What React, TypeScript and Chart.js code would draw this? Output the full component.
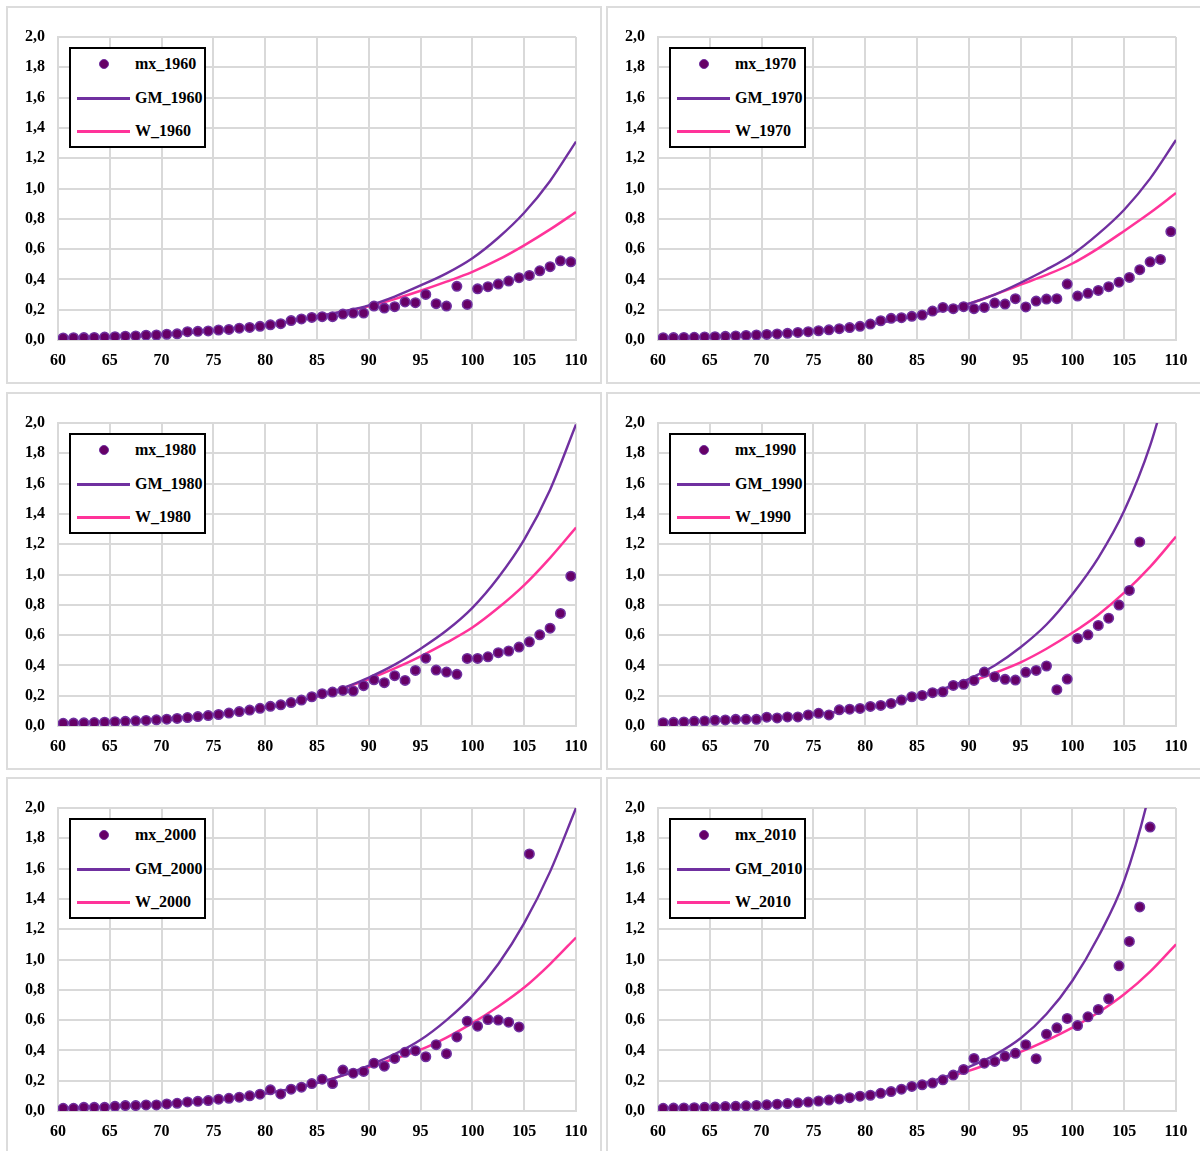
import React, { useEffect, useRef } from "react";
import { Chart, registerables } from "chart.js";
Chart.register(...registerables);

// Age at the middle of each one-year interval (x of the observed points)
const pointAges = [
  60.5, 61.5, 62.5, 63.5, 64.5, 65.5, 66.5, 67.5, 68.5, 69.5,
  70.5, 71.5, 72.5, 73.5, 74.5, 75.5, 76.5, 77.5, 78.5, 79.5,
  80.5, 81.5, 82.5, 83.5, 84.5, 85.5, 86.5, 87.5, 88.5, 89.5,
  90.5, 91.5, 92.5, 93.5, 94.5, 95.5, 96.5, 97.5, 98.5, 99.5,
  100.5, 101.5, 102.5, 103.5, 104.5, 105.5, 106.5, 107.5, 108.5, 109.5,
];
// Ages at which the fitted curves were read
const curveAges = [60, 65, 70, 75, 80, 82.5, 85, 87.5, 90, 92.5, 95, 97.5, 100, 102.5, 105, 107.5, 110];

const xTicks = [60, 65, 70, 75, 80, 85, 90, 95, 100, 105, 110];
const yTicks = [0, 0.2, 0.4, 0.6, 0.8, 1.0, 1.2, 1.4, 1.6, 1.8, 2.0];

// 1960
const mx1960 = [
  0.014, 0.015, 0.016, 0.017, 0.019, 0.022, 0.025, 0.027, 0.032, 0.033,
  0.038, 0.041, 0.055, 0.057, 0.060, 0.066, 0.070, 0.078, 0.083, 0.090,
  0.100, 0.108, 0.128, 0.139, 0.149,
  0.154, 0.154, 0.171, 0.178, 0.178, 0.224, 0.211, 0.220, 0.251, 0.246,
  0.301, 0.240, 0.224, 0.354, 0.235, 0.338, 0.352, 0.369, 0.389, 0.411,
  0.426, 0.457, 0.484, 0.523, 0.516,
];
const gm1960 = [0.014, 0.022, 0.036, 0.060, 0.097, 0.123, 0.155, 0.188, 0.228, 0.287, 0.36, 0.44, 0.54, 0.675, 0.84, 1.05, 1.31];
const w1960 = [0.014, 0.022, 0.036, 0.060, 0.097, 0.123, 0.155, 0.186, 0.222, 0.27, 0.325, 0.385, 0.45, 0.53, 0.625, 0.73, 0.845];

// 1970
const mx1970 = [
  0.015, 0.016, 0.017, 0.018, 0.020, 0.022, 0.024, 0.027, 0.030, 0.033,
  0.037, 0.040, 0.044, 0.050, 0.055, 0.061, 0.067, 0.075, 0.082, 0.090,
  0.105,
  0.127, 0.143, 0.147, 0.156, 0.165, 0.191, 0.215, 0.207, 0.220, 0.207,
  0.215, 0.244, 0.237, 0.273, 0.218, 0.257, 0.270, 0.273, 0.369, 0.290,
  0.308, 0.327, 0.352, 0.382, 0.413, 0.464, 0.516, 0.532, 0.716,
];
const gm1970 = [0.014, 0.022, 0.036, 0.060, 0.10, 0.127, 0.16, 0.196, 0.24, 0.30, 0.378, 0.465, 0.565, 0.70, 0.86, 1.065, 1.32];
const w1970 = [0.014, 0.022, 0.036, 0.060, 0.10, 0.127, 0.16, 0.196, 0.238, 0.30, 0.365, 0.43, 0.505, 0.605, 0.72, 0.84, 0.97];

// 1980
const mx1980 = [
  0.018, 0.019, 0.021, 0.023, 0.025, 0.028, 0.031, 0.034, 0.037, 0.041,
  0.045, 0.050, 0.056, 0.062, 0.069, 0.076, 0.085, 0.095, 0.105, 0.117,
  0.130, 0.140, 0.155,
  0.171, 0.193, 0.213, 0.224, 0.235, 0.231, 0.266, 0.305, 0.286, 0.332,
  0.301, 0.367, 0.448, 0.369, 0.356, 0.341, 0.446, 0.446, 0.457, 0.484,
  0.495, 0.521, 0.556, 0.602, 0.646, 0.743, 0.989,
];
const gm1980 = [0.019, 0.030, 0.047, 0.075, 0.12, 0.153, 0.195, 0.25, 0.32, 0.405, 0.51, 0.63, 0.78, 0.98, 1.23, 1.56, 1.99];
const w1980 = [0.019, 0.030, 0.047, 0.075, 0.12, 0.153, 0.195, 0.248, 0.31, 0.38, 0.46, 0.55, 0.65, 0.78, 0.93, 1.11, 1.31];

// 1990
const mx1990 = [
  0.022, 0.024, 0.027, 0.031, 0.033, 0.038, 0.040, 0.044, 0.044, 0.044,
  0.058, 0.053, 0.060, 0.060, 0.073, 0.084, 0.073, 0.107, 0.111, 0.116,
  0.129,
  0.136, 0.149, 0.171, 0.193, 0.202, 0.220, 0.226, 0.268, 0.275, 0.301,
  0.356, 0.325, 0.308, 0.303, 0.354, 0.367, 0.396, 0.240, 0.310, 0.578,
  0.602, 0.664, 0.712, 0.798, 0.895, 1.215,
];
const gm1990 = [0.02, 0.032, 0.05, 0.075, 0.12, 0.153, 0.195, 0.245, 0.31, 0.40, 0.52, 0.67, 0.87, 1.11, 1.42, 1.85, 2.45];
const w1990 = [0.02, 0.032, 0.05, 0.075, 0.12, 0.153, 0.195, 0.24, 0.29, 0.35, 0.42, 0.51, 0.615, 0.735, 0.88, 1.05, 1.25];

// 2000
const mx2000 = [
  0.018, 0.018, 0.024, 0.024, 0.024, 0.031, 0.036, 0.036, 0.040, 0.040,
  0.047, 0.051, 0.060, 0.064, 0.069, 0.078, 0.084, 0.091, 0.100, 0.111,
  0.140, 0.113, 0.144,
  0.157, 0.181, 0.210, 0.181, 0.270, 0.250, 0.261, 0.316, 0.296, 0.347,
  0.387, 0.398, 0.358, 0.438, 0.378, 0.489, 0.593, 0.560, 0.604, 0.600,
  0.586, 0.555, 1.697,
];
const gm2000 = [0.018, 0.028, 0.044, 0.07, 0.115, 0.146, 0.185, 0.235, 0.30, 0.375, 0.47, 0.60, 0.76, 0.97, 1.24, 1.58, 2.0];
const w2000 = [0.018, 0.028, 0.044, 0.07, 0.115, 0.146, 0.185, 0.235, 0.29, 0.345, 0.405, 0.485, 0.58, 0.69, 0.815, 0.97, 1.145];

// 2010
const mx2010 = [
  0.018, 0.019, 0.020, 0.022, 0.024, 0.026, 0.029, 0.031, 0.034, 0.037,
  0.041, 0.045, 0.049, 0.054, 0.059, 0.066, 0.072, 0.080, 0.088, 0.098,
  0.104,
  0.117, 0.128, 0.144, 0.162, 0.173, 0.184, 0.206, 0.237, 0.274, 0.347,
  0.316, 0.327, 0.361, 0.381, 0.438, 0.345, 0.507, 0.549, 0.611, 0.564,
  0.622, 0.670, 0.741, 0.958, 1.119, 1.347, 1.874,
];
const gm2010 = [0.018, 0.027, 0.042, 0.066, 0.105, 0.133, 0.17, 0.22, 0.29, 0.37, 0.48, 0.64, 0.86, 1.15, 1.52, 2.12, 3.0];
const w2010 = [0.018, 0.027, 0.042, 0.066, 0.105, 0.133, 0.17, 0.215, 0.265, 0.325, 0.39, 0.465, 0.55, 0.65, 0.77, 0.92, 1.10];

const MX_FILL = "#660066";
const MX_BORDER = "#7030a0";
const GM_COLOR = "#7030a0";
const W_COLOR = "#ff3399";
const GRID = "#d9d9d9";
const SERIF = "'Liberation Serif', 'Times New Roman', serif";

type PanelProps = {
  left: number;
  top: number;
  year: string;
  mx: number[];
  gm: number[];
  w: number[];
};

const PW = 596;
const PH = 378;

function Panel({ left, top, year, mx, gm, w }: PanelProps) {
  const ref = useRef<HTMLCanvasElement | null>(null);
  useEffect(() => {
    if (!ref.current) return;
    const chart = new Chart(ref.current, {
      type: "line",
      data: {
        datasets: [
          {
            label: "mx_" + year,
            data: mx.map((v, i) => ({ x: pointAges[i], y: v })),
            showLine: false,
            pointRadius: 4.7,
            pointBorderWidth: 1.6,
            pointBackgroundColor: MX_FILL,
            pointBorderColor: MX_BORDER,
            backgroundColor: MX_FILL,
            borderColor: MX_BORDER,
            order: 0,
          },
          {
            label: "GM_" + year,
            data: gm.map((v, i) => ({ x: curveAges[i], y: v })),
            borderColor: GM_COLOR,
            borderWidth: 2.4,
            pointRadius: 0,
            cubicInterpolationMode: "monotone",
            order: 1,
          },
          {
            label: "W_" + year,
            data: w.map((v, i) => ({ x: curveAges[i], y: v })),
            borderColor: W_COLOR,
            borderWidth: 2.5,
            pointRadius: 0,
            cubicInterpolationMode: "monotone",
            order: 2,
          },
        ],
      },
      options: {
        animation: false,
        responsive: false,
        maintainAspectRatio: false,
        layout: { padding: { left: 0, top: 30, right: 27, bottom: 0 } },
        plugins: { legend: { display: false }, tooltip: { enabled: false } },
        scales: {
          x: {
            type: "linear",
            min: xTicks[0],
            max: xTicks[xTicks.length - 1],
            afterBuildTicks: (s: any) => {
              s.ticks = xTicks.map((v) => ({ value: v }));
            },
            ticks: {
              padding: 11,
              color: "#000",
              font: { family: SERIF, size: 16, weight: "bold" },
              maxRotation: 0,
              callback: (v: any) => String(v),
            },
            grid: { color: GRID, lineWidth: 2, drawTicks: false },
            border: { color: GRID, width: 2 },
            afterFit: (s: any) => {
              s.height = 45;
            },
          },
          y: {
            type: "linear",
            min: yTicks[0],
            max: yTicks[yTicks.length - 1],
            afterBuildTicks: (s: any) => {
              s.ticks = yTicks.map((v) => ({ value: v }));
            },
            ticks: {
              padding: 13,
              color: "#000",
              font: { family: SERIF, size: 16, weight: "bold" },
              callback: (v: any) => Number(v).toFixed(1).replace(".", ","),
            },
            grid: { color: GRID, lineWidth: 2, drawTicks: false },
            border: { color: GRID, width: 2 },
            afterFit: (s: any) => {
              s.width = 51;
            },
          },
        },
      } as any,
    });
    return () => chart.destroy();
  }, [year, mx, gm, w]);

  const legendRow = (y: number): React.CSSProperties => ({
    position: "absolute",
    left: 0,
    top: y - 10,
    height: 20,
    width: "100%",
  });
  const textStyle: React.CSSProperties = {
    position: "absolute",
    left: 64,
    top: 0,
    lineHeight: "20px",
    fontFamily: SERIF,
    fontWeight: "bold",
    fontSize: 16,
    color: "#000",
    whiteSpace: "nowrap",
  };

  return (
    <>
      <div
        style={{
          position: "absolute",
          left: left - 1,
          top: top - 1,
          width: PW,
          height: PH,
          border: "2px solid #dcdcdc",
          boxSizing: "border-box",
        }}
      />
      <canvas
        ref={ref}
        width={PW}
        height={PH}
        style={{ position: "absolute", left, top, width: PW, height: PH }}
      />
      <div
        style={{
          position: "absolute",
          left: left + 62,
          top: top + 40,
          width: 137,
          height: 101,
          border: "2px solid #000",
          boxSizing: "border-box",
          background: "#fff",
        }}
      >
        <div style={legendRow(15)}>
          <div
            style={{
              position: "absolute",
              left: 28,
              top: 5,
              width: 10,
              height: 10,
              borderRadius: "50%",
              background: MX_FILL,
              border: "1.5px solid " + MX_BORDER,
              boxSizing: "border-box",
            }}
          />
          <span style={textStyle}>{"mx_" + year}</span>
        </div>
        <div style={legendRow(49)}>
          <div
            style={{
              position: "absolute",
              left: 6,
              top: 9,
              width: 53,
              height: 2.5,
              background: GM_COLOR,
            }}
          />
          <span style={textStyle}>{"GM_" + year}</span>
        </div>
        <div style={legendRow(82)}>
          <div
            style={{
              position: "absolute",
              left: 6,
              top: 9,
              width: 53,
              height: 2.5,
              background: W_COLOR,
            }}
          />
          <span style={textStyle}>{"W_" + year}</span>
        </div>
      </div>
    </>
  );
}

export default function App() {
  return (
    <div
      style={{
        position: "absolute",
        left: 0,
        top: 0,
        width: 1200,
        height: 1151,
        overflow: "hidden",
        background: "#fff",
      }}
    >
      <Panel left={7} top={7} year="1960" mx={mx1960} gm={gm1960} w={w1960} />
      <Panel left={607} top={7} year="1970" mx={mx1970} gm={gm1970} w={w1970} />
      <Panel left={7} top={393} year="1980" mx={mx1980} gm={gm1980} w={w1980} />
      <Panel left={607} top={393} year="1990" mx={mx1990} gm={gm1990} w={w1990} />
      <Panel left={7} top={778} year="2000" mx={mx2000} gm={gm2000} w={w2000} />
      <Panel left={607} top={778} year="2010" mx={mx2010} gm={gm2010} w={w2010} />
    </div>
  );
}
